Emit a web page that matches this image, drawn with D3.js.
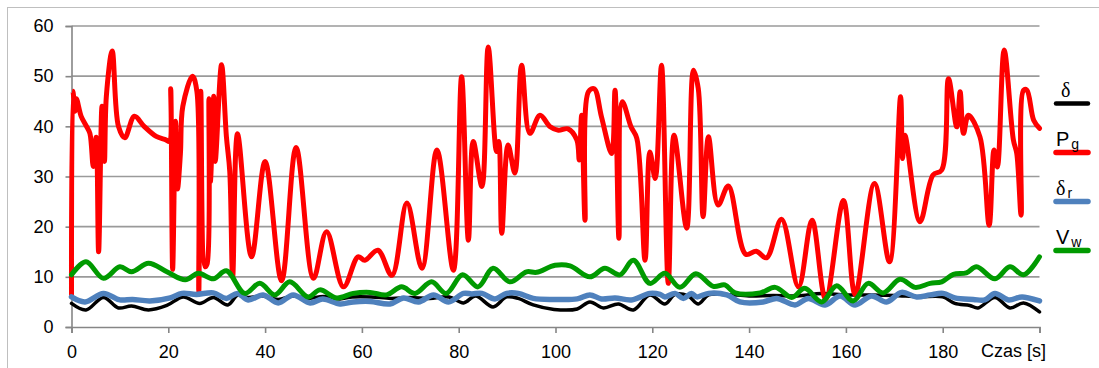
<!DOCTYPE html>
<html>
<head>
<meta charset="utf-8">
<script src="https://cdn.jsdelivr.net/npm/d3@7"></script>
<style>
  body { margin: 0; background: #fff; }
  svg { display: block; font-family: "Liberation Sans", Arial, sans-serif; }
</style>
</head>
<body>
<svg id="chart" width="1099" height="368"></svg>
<script>
// czas [s] / wartosci dla kazdej serii
const deltaT = [0,3,6.6,9.7,12.4,15.9,19.7,23.1,26.5,29.3,32.3,34.4,36.5,39.5,42.7,45.8,49,52,55.5,58,62,66,70,74,78,81,83.5,87.1,89.9,92.3,95.4,99.7,104.5,107.1,109.9,113,116.1,119.5,122.6,124.7,127.4,129.5,131.6,135,140,145,150,155,160,165,170,175,180,182.5,185.6,187.3,190.8,193.9,196.7,200]
const deltaV = [4.7,3.4,5.9,3.8,4.2,3.4,4.3,6,4.7,5.9,4.4,6.4,5.9,6.2,5.5,6.2,5.7,6.1,5.6,6,6,5.7,5.9,5.7,6,4.8,6.2,4,6,5.7,4.4,3.5,3.6,5,3.8,4.6,3.4,6.4,4.6,6.5,6.2,4.6,6.4,6.5,6.2,6.3,6.2,6.7,6.4,6.4,6.3,6,6,4.7,4.3,3.8,5.9,3.8,4.8,3]

const pgT = [0,0.3,0.7,1,2,3.1,3.8,4.5,5.1,5.6,6.3,6.8,7.2,8.4,9.7,11,13,15,17.5,19.5,20.2,20.5,20.9,21.5,21.9,22.5,23,25,25.9,26.3,26.7,27.6,28,28.4,28.7,29.4,29.7,31,32,32.7,33.3,34.3,37.2,40,43.4,46.4,50,52.7,56.2,59.2,60.6,63.3,66.2,69.3,72.4,75.5,78.9,80.6,82,83,84.8,86.1,87.8,88.3,88.9,90.2,91.6,93,94.7,96.8,98.9,100.6,102.6,104.4,104.9,105.4,106.1,106.8,108,109.5,111.6,112.3,113.1,113.8,115.6,116.8,118.5,119.5,120.6,121.9,123.3,124.5,127.1,128.5,129.5,130.5,131.6,133.6,135.7,139.3,141.5,143.6,146.7,150.2,153,155.8,159.5,161.9,165.9,169,171.3,171.7,172.2,175.3,178,179.8,181.2,182.9,183.6,184.3,185.3,187.7,189.6,190.6,191.3,192.7,194.6,195.3,196.2,196.7,197.4,198.8,200]
const pgV = [6.5,47,43,45.5,42,40,38.6,32,37.8,15,44,33,46,55,40,37.7,42,40,38,37.3,37,47.5,11.5,41,27.5,34.5,44,50,47,7,47,12,12.5,45.5,29,46,33,52.3,38,31,10,38.5,14,33,9.2,35.8,9.7,19,8,14,13.3,15.3,10.3,24.7,11.7,35.3,11.3,49.9,17.3,37,28,55.8,35,37,18.7,36.3,30.7,52.2,38.6,42.2,39.9,39.2,39.5,37.3,33.3,42.2,21.3,46.9,47.5,41.9,34.6,47.2,17.7,44.9,39.9,37.6,13.3,34.9,29.6,52.2,8.7,38.2,19.7,51.2,47.5,22,37.9,24.3,28.1,14.5,15.1,13.8,21.5,8,21.3,5.6,25.2,6.5,28.6,13,45.9,33.6,38.2,21,30.3,31.3,49.5,39.9,46.9,38.6,42.2,37.9,20.3,35.3,31.9,55.2,37.3,34.6,22.3,47.2,47.2,41.2,39.6]

const deltaRT = [0,2.8,6.6,10,12.6,16.2,20.4,22.8,25.8,29.3,32,34.3,36.5,39.6,42.7,45.8,49.3,51.9,55.5,58.2,61.7,65.8,68.6,71.7,74.8,77.9,81,82.7,84.8,87.5,89.9,92.3,95.4,99.7,104.5,107.1,109.5,112.3,115.7,119.5,121.6,122.6,124.7,126.4,128.1,129.2,131.6,135.4,138.1,142.9,145.7,149.5,152.2,155.7,158.8,161.9,165.3,168.4,171.5,174.6,177.4,180.1,182.5,186.3,188.7,190.8,193.6,196.4,200]
const deltaRV = [6,5,6.7,5.4,5.5,5.2,5.8,6.7,6.5,6.8,5.7,6.7,5.4,6.4,4.8,6.4,4.8,5.6,4.6,5,5.1,4.6,5.8,5,6.4,5,6.7,6.6,6.7,5.6,6.7,6.7,5.7,5.5,5.6,6.4,5.6,5.8,5.4,6.7,6.5,6,6.7,5.7,6.7,6,6.7,6.4,5,5,5.7,4.4,5.7,4.4,6.2,4.4,6.2,5,6.9,6,6.4,6.7,5.8,5.5,5.4,6.7,5.4,6,5.2]

const vwT = [0,3,6.6,10,12.4,15.9,19.7,23.5,26.2,29.3,32,35.8,38.9,42,45.1,48.9,51.3,54.8,58.2,61.7,65.1,68.2,71,74.4,77.4,80.8,84,87.1,90.6,94,96.1,99.9,103,107.1,110.2,113.3,116.1,119.5,122.6,125.7,129,132.6,135,137.1,142.3,145.4,148.8,151.5,155,158.1,161.5,164.6,167.7,171.2,174.3,177.4,179.8,182.2,184.9,187,190.8,193.9,196.7,200]
const vwV = [10.4,13,9.7,12,11,12.7,11,9.4,10.7,9.6,11.2,6.7,8.7,6.4,9,6,7.4,5.8,6.7,6.9,6.4,8,6.7,9,6.7,10.4,8,11.7,9,11,10.9,12.3,12.2,10,11.7,10.4,13.3,8.7,10.7,7.9,10.6,8.1,8.4,6.8,6.8,7.9,5.9,7.7,5,8.2,5.2,8.7,6.8,9.5,7.9,8.7,9,10.5,10.8,12,9.6,12,10.4,14]

const yTicks = [0,10,20,30,40,50,60]
const xTicks = [0,20,40,60,80,100,120,140,160,180,200]

const svg = d3.select('#chart')

// ramka wykresu
svg.append('rect')
  .attr('x',7.5).attr('y',7.5)
  .attr('width',1110).attr('height',380)
  .attr('fill','none').attr('stroke','#bfbfbf').attr('stroke-width',1)

const x = d3.scaleLinear().domain([0,200]).range([71.5,1039.5])
const y = d3.scaleLinear().domain([0,60]).range([327,26])

// linie siatki
svg.append('g')
  .selectAll('line')
  .data(yTicks.filter(d=>d>0))
  .enter().append('line')
  .attr('x1',x(0)).attr('x2',x(200))
  .attr('y1',d=>y(d)).attr('y2',d=>y(d))
  .attr('stroke','#9a9a9a').attr('stroke-width',1.6)

const yAxis = svg.append('g')
  .attr('transform',`translate(${x(0)},0)`)
  .call(d3.axisLeft(y).tickValues(yTicks).tickSize(6).tickPadding(12))
const xAxis = svg.append('g')
  .attr('transform',`translate(0,${y(0)})`)
  .call(d3.axisBottom(x).tickValues(xTicks).tickSize(6).tickPadding(12)
    .tickFormat(d=> d==200 ? '' : d))

;[yAxis,xAxis].forEach(a=>{
  a.select('.domain').attr('stroke','#868686').attr('stroke-width',1.6)
  a.selectAll('.tick line').attr('stroke','#868686').attr('stroke-width',1.6)
  a.selectAll('text').attr('fill','#000').style('font-size','18px')
    .style('font-family','"Liberation Sans", Arial, sans-serif')
})

svg.append('text')
  .attr('x',981).attr('y',357)
  .style('font-size','18px')
  .text('Czas [s]')

// serie
const series = [
  {t:deltaT, v:deltaV, color:'#000000', w:3.5},
  {t:pgT, v:pgV, color:'#ff0000', w:5},
  {t:deltaRT, v:deltaRV, color:'#4f81bd', w:5.5},
  {t:vwT, v:vwV, color:'#009a00', w:5}
]

const line = d3.line()
  .x(d=>x(d[0])).y(d=>y(d[1]))
  .curve(d3.curveCatmullRom.alpha(0.5))

series.forEach(s=>{
  svg.append('path')
    .datum(s.t.map((t,i)=>[t,s.v[i]]))
    .attr('d',line)
    .attr('fill','none')
    .attr('stroke',s.color)
    .attr('stroke-width',s.w)
    .attr('stroke-linejoin','round')
    .attr('stroke-linecap','round')
})

// legenda
const legend = [
  {main:'δ', sub:'', color:'#000000', w:4.5},
  {main:'P', sub:'g', color:'#ff0000', w:5.5},
  {main:'δ', sub:'r', color:'#4f81bd', w:5.5},
  {main:'V', sub:'w', color:'#009a00', w:5.5}
]
const lg = svg.append('g')
legend.forEach((d,i)=>{
  const yy = 103.5 + i*49
  lg.append('line')
    .attr('x1',1056).attr('x2',1088)
    .attr('y1',yy).attr('y2',yy)
    .attr('stroke',d.color).attr('stroke-width',d.w)
    .attr('stroke-linecap','round')
  const t = lg.append('text')
    .attr('x', d.sub ? 1056 : 1061).attr('y',yy-7)
    .style('font-size','20px')
  t.append('tspan')
    .style('font-family', d.main=='δ' ? '"Liberation Serif", serif' : null)
    .text(d.main)
  if(d.sub){
    t.append('tspan').attr('dx',2).attr('dy',3)
      .style('font-size','14px').text(d.sub)
  }
})
</script>
</body>
</html>
